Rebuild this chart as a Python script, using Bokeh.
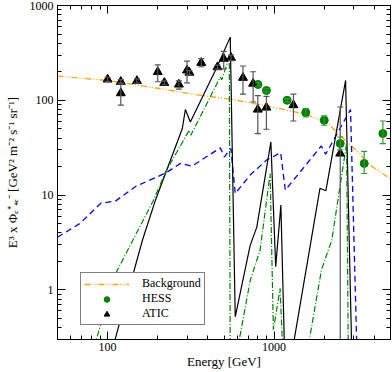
from bokeh.plotting import figure
from bokeh.models import (FixedTicker, LogAxis, Whisker, ColumnDataSource, Legend,
                          LegendItem, TeeHead, Range1d, NumeralTickFormatter)
from bokeh.embed import file_html
from bokeh.resources import INLINE

# ---------------- data ----------------
bg_E = [50, 100, 200, 361, 545, 718, 862, 1495, 2064, 2423, 2850, 3273, 3585, 4955]
bg_v = [180, 162, 134, 113, 103, 94, 89, 72.5, 59, 45, 34, 27.5, 22, 15]

blue_E = [50, 68, 91, 112, 148, 199, 229, 274, 321, 475, 503, 550, 584, 718, 903,
          1095, 1167, 1920, 2040, 2877, 3148]
blue_v = [3.6, 5.0, 8.2, 8.7, 12.4, 15.6, 17.6, 21.6, 20.2, 31.5, 25.3, 31.0, 10.4, 16.3, 23.5,
          28.0, 11.3, 33.0, 27.0, 79.8, 0.2]

black_E = [104, 162, 194, 281, 293, 314, 454, 545, 584, 718, 787, 956, 1022, 1098,
           1157, 1270, 1885, 2045, 2687, 2930]
black_v = [0.2, 3.36, 8.9, 50.4, 80, 59, 224, 464, 0.52, 2.95, 4.6, 36.4, 1.76, 7.85,
           0.2, 0.2, 11.8, 11.1, 162, 0.2]

green_E = [83, 112, 189, 223, 309, 316, 475, 485, 538, 545, 592, 718, 824, 946, 990,
           1086, 1130, 1600, 1925, 2220, 2724, 2790]
green_v = [0.25, 1.5, 8.9, 17.6, 48.3, 42.8, 176, 165, 286, 0.2, 0.2, 1.25, 2.64, 16.9, 0.38,
           1.04, 0.2, 0.25, 1.63, 3.36, 35, 0.2]

atic_E = [100, 120, 120, 150, 200, 219, 268, 300, 310, 365, 457, 498, 551, 650, 748, 798, 899, 1306, 2495]
atic_v = [166, 157, 119, 160, 199, 153, 147, 207, 196, 249, 224, 275, 281, 173, 150, 80, 84, 89, 27.5]
atic_lo = [158, 150, 89, 152, 157, 146, 131, 153, 186, 226, 213, 215, 262, 116, 96, 44.6, 49.5, 60.5, 0.1]
atic_hi = [175, 165, 152, 168, 236, 160, 160, 259, 206, 275, 235, 328, 300, 230, 200, 112, 110, 116, 85]

hess_E = [800, 899, 1197, 1549, 2000, 2495, 3475, 4500]
hess_v = [147, 127, 100, 74.3, 61.5, 35, 21.6, 44.6]
hess_lo = [141, 122, 96, 66.7, 54.6, 30, 16.9, 35]
hess_hi = [153, 132, 104, 81.8, 68.4, 41, 29, 60.5]

x_major = [100, 1000]
x_minor = [50, 60, 70, 80, 90, 200, 300, 400, 500, 600, 700, 800, 900, 2000, 3000, 4000, 5000]
y_major = [1, 10, 100, 1000]
y_minor = [0.3, 0.4, 0.5, 0.6, 0.7, 0.8, 0.9, 2, 3, 4, 5, 6, 7, 8, 9,
           20, 30, 40, 50, 60, 70, 80, 90, 200, 300, 400, 500, 600, 700, 800, 900]

x_label = "Energy [GeV]"
y_label = "E³ x Φₑ⁺₊ₑ⁻ [GeV² m⁻² s⁻¹ sr⁻¹]"

FONT = "Liberation Serif"

# ---------------- figure ----------------
p = figure(width=392, height=372, x_axis_type="log", y_axis_type="log",
           x_range=Range1d(50, 5000), y_range=Range1d(0.3, 1000),
           output_backend="svg", toolbar_location=None,
           min_border_left=57, min_border_right=2, min_border_top=5, min_border_bottom=33)
p.styles = {"position": "absolute", "left": "0px", "top": "0px"}
p.outline_line_color = "black"
p.outline_line_width = 1
p.grid.visible = False
p.background_fill_color = "white"
p.border_fill_color = "white"


def style_axis(ax, major, minor, labels=True):
    ax.ticker = FixedTicker(ticks=major, minor_ticks=minor)
    ax.major_tick_in = 8
    ax.major_tick_out = 0
    ax.minor_tick_in = 4
    ax.minor_tick_out = 0
    ax.major_tick_line_color = "black"
    ax.minor_tick_line_color = "black"
    ax.axis_line_color = "black"
    ax.formatter = NumeralTickFormatter(format="0")
    ax.major_label_text_font = FONT
    ax.major_label_text_color = "black"
    ax.major_label_text_font_size = "12px"
    if not labels:
        ax.major_label_overrides = {t: "" for t in major}
        ax.major_label_standoff = 0


xa = p.xaxis[0]
ya = p.yaxis[0]
style_axis(xa, x_major, x_minor)
style_axis(ya, y_major, y_minor)
xa.major_label_standoff = 3
ya.major_label_standoff = 4
xa.axis_label = x_label
ya.axis_label = y_label
for ax in (xa, ya):
    ax.axis_label_text_font = FONT
    ax.axis_label_text_font_size = "13px"
    ax.axis_label_text_font_style = "normal"
    ax.axis_label_text_color = "black"
xa.axis_label_standoff = 0
ya.axis_label_standoff = 7

top = LogAxis()
right = LogAxis()
style_axis(top, x_major, x_minor, labels=False)
style_axis(right, y_major, y_minor, labels=False)
p.add_layout(top, "above")
p.add_layout(right, "right")

# ---------------- model curves ----------------
bg = p.line(bg_E, bg_v, line_color="#ffa500", line_width=1.3, line_dash="6 2 1 2 1 2")
p.line(blue_E, blue_v, line_color="#0000ff", line_width=1.3, line_dash="6 4")
p.line(black_E, black_v, line_color="black", line_width=1.2)
p.line(green_E, green_v, line_color="#008000", line_width=1.2, line_dash="6 2 1 2")

# ---------------- data points ----------------
atic_src = ColumnDataSource(dict(E=atic_E, v=atic_v, lo=atic_lo, hi=atic_hi))
hess_src = ColumnDataSource(dict(E=hess_E, v=hess_v, lo=hess_lo, hi=hess_hi))

w1 = Whisker(source=atic_src, base="E", lower="lo", upper="hi", dimension="height",
             line_color="#555555", line_width=1.2,
             upper_head=TeeHead(size=6, line_color="#555555", line_width=1.2),
             lower_head=TeeHead(size=6, line_color="#555555", line_width=1.2))
w2 = Whisker(source=hess_src, base="E", lower="lo", upper="hi", dimension="height",
             line_color="#339933", line_width=1.2,
             upper_head=TeeHead(size=6, line_color="#339933", line_width=1.2),
             lower_head=TeeHead(size=6, line_color="#339933", line_width=1.2))
w1.level = "glyph"
w2.level = "glyph"
p.add_layout(w1)
p.add_layout(w2)

hess = p.scatter("E", "v", source=hess_src, marker="circle", size=8,
                 fill_color="#008000", line_color="#008000")
atic = p.scatter("E", "v", source=atic_src, marker="triangle", size=9,
                 fill_color="black", line_color="black")

legend = Legend(items=[LegendItem(label="Background", renderers=[bg]),
                       LegendItem(label="HESS", renderers=[hess]),
                       LegendItem(label="ATIC", renderers=[atic])],
                location=(23, 14))
legend.border_line_color = "black"
legend.border_line_width = 1
legend.background_fill_color = "white"
legend.background_fill_alpha = 1
legend.padding = 3
legend.spacing = 0
legend.margin = 0
legend.glyph_width = 45
legend.glyph_height = 14
legend.label_height = 14
legend.label_standoff = 13
legend.label_text_font = FONT
legend.label_text_font_size = "12px"
legend.label_text_color = "black"
p.add_layout(legend)

open("out.html", "w").write(file_html(p, INLINE))
